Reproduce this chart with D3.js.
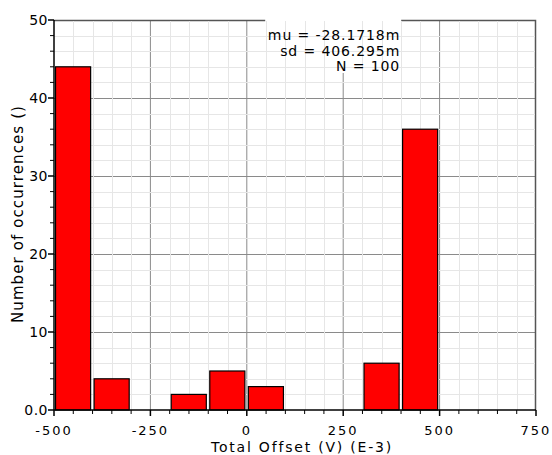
<!DOCTYPE html>
<html>
<head>
<meta charset="utf-8">
<script src="https://cdn.jsdelivr.net/npm/d3@7"></script>
<style>
  body { margin: 0; background: #fff; }
  text { font-family: "DejaVu Sans", sans-serif; fill: #000; }
</style>
</head>
<body>
<div class="chart"></div>
<script>
// histogram bins (lower edge, width 100) and counts
var binStarts = [-500, -400, -300, -200, -100, 0, 100, 200, 300, 400];
var counts = [44, 4, 0, 2, 5, 3, 0, 0, 6, 36];
var binWidth = 100;

var xTicks = [-500, -250, 0, 250, 500, 750];
var xTickLabels = ["-500", "-250", "0", "250", "500", "750"];
var yTicks = [0, 10, 20, 30, 40, 50];
var yTickLabels = ["0.0", "10", "20", "30", "40", "50"];
var statLines = ["mu = -28.1718m", "sd = 406.295m", "N = 100"];

var svgWidth = 552;
var svgHeight = 455;
var margin = { top: 20, right: 16, bottom: 45, left: 54 };
var width = svgWidth - margin.left - margin.right;
var height = svgHeight - margin.top - margin.bottom;

var svg = d3.select(".chart")
  .append("svg")
  .attr("width", svgWidth)
  .attr("height", svgHeight);

var chart = svg.append("g")
  .attr("transform", "translate(" + margin.left + "," + margin.top + ")");

var x = d3.scaleLinear().domain([-500, 750]).range([0, width]);
var y = d3.scaleLinear().domain([0, 50]).range([height, 0]);

var minorX = d3.range(-500, 751, 50).filter(function(d) { return d % 250 !== 0; });
var minorY = d3.range(0, 51, 2).filter(function(d) { return d % 10 !== 0; });

// major grid
chart.append("g").selectAll("line")
  .data(xTicks.slice(1, -1))
  .enter().append("line")
  .attr("x1", function(d) { return x(d); })
  .attr("x2", function(d) { return x(d); })
  .attr("y1", 0).attr("y2", height)
  .attr("stroke", "#8a8a8a");

chart.append("g").selectAll("line")
  .data(yTicks.slice(1, -1))
  .enter().append("line")
  .attr("y1", function(d) { return y(d) + 0.5; })
  .attr("y2", function(d) { return y(d) + 0.5; })
  .attr("x1", 0).attr("x2", width)
  .attr("stroke", "#8a8a8a");

// top and right frame
chart.append("path")
  .attr("d", "M0," + 0.5 + "H" + (width - 0.5) + "V" + height)
  .attr("fill", "none")
  .attr("stroke", "#555")
  .attr("stroke-width", 1.5);

// stats box covers the frame
var statRight = x(250) + 57;
chart.append("rect")
  .attr("x", statRight - 135)
  .attr("y", -7)
  .attr("width", 136)
  .attr("height", 60)
  .attr("fill", "#fff");

// minor grid
chart.append("g").selectAll("line")
  .data(minorX)
  .enter().append("line")
  .attr("x1", function(d) { return Math.round(x(d)) + 0.5; })
  .attr("x2", function(d) { return Math.round(x(d)) + 0.5; })
  .attr("y1", 1).attr("y2", height)
  .attr("stroke", "#e6e6e6");

chart.append("g").selectAll("line")
  .data(minorY)
  .enter().append("line")
  .attr("y1", function(d) { return Math.round(y(d)) + 0.5; })
  .attr("y2", function(d) { return Math.round(y(d)) + 0.5; })
  .attr("x1", 0).attr("x2", width - 1)
  .attr("stroke", "#e6e6e6");

// bars
var bins = binStarts.map(function(d, i) { return { x0: d, n: counts[i] }; })
  .filter(function(d) { return d.n > 0; });

chart.append("g").selectAll("rect")
  .data(bins)
  .enter().append("rect")
  .attr("x", function(d) { return x(d.x0 + 4); })
  .attr("width", function(d) { return x(d.x0 + binWidth - 5) - x(d.x0 + 4); })
  .attr("y", function(d) { return y(d.n); })
  .attr("height", function(d) { return height - y(d.n); })
  .attr("fill", "#ff0000")
  .attr("stroke", "#000")
  .attr("stroke-width", 1.2);

// x axis
var xAxis = chart.append("g").attr("transform", "translate(0," + height + ")");
xAxis.append("line").attr("x1", 0).attr("x2", width).attr("stroke", "#000").attr("stroke-width", 1.5);
xAxis.selectAll(".minor")
  .data(minorX).enter().append("line")
  .attr("x1", function(d) { return x(d); }).attr("x2", function(d) { return x(d); })
  .attr("y1", 0).attr("y2", 4).attr("stroke", "#000");
xAxis.selectAll(".major")
  .data(xTicks).enter().append("line")
  .attr("x1", function(d) { return x(d); }).attr("x2", function(d) { return x(d); })
  .attr("y1", 0).attr("y2", 6).attr("stroke", "#000").attr("stroke-width", 1.5);
xAxis.selectAll("text")
  .data(xTicks).enter().append("text")
  .attr("x", function(d) { return x(d); })
  .attr("y", 25)
  .attr("text-anchor", "middle")
  .style("font-size", "13px")
  .style("letter-spacing", "2px")
  .text(function(d, i) { return xTickLabels[i]; });

// y axis
var yAxis = chart.append("g");
yAxis.append("line").attr("y1", 0).attr("y2", height).attr("stroke", "#000").attr("stroke-width", 1.5);
yAxis.selectAll(".minor")
  .data(minorY).enter().append("line")
  .attr("y1", function(d) { return y(d); }).attr("y2", function(d) { return y(d); })
  .attr("x1", 0).attr("x2", -4).attr("stroke", "#000");
yAxis.selectAll(".major")
  .data(yTicks).enter().append("line")
  .attr("y1", function(d) { return y(d); }).attr("y2", function(d) { return y(d); })
  .attr("x1", 0).attr("x2", -6).attr("stroke", "#000").attr("stroke-width", 1.5);
yAxis.selectAll("text")
  .data(yTicks).enter().append("text")
  .attr("x", -6)
  .attr("y", function(d) { return y(d) + 5; })
  .attr("text-anchor", "end")
  .style("font-size", "14px")
  .style("letter-spacing", "0.5px")
  .text(function(d, i) { return yTickLabels[i]; });

// axis titles
chart.append("text")
  .attr("x", 248)
  .attr("y", height + 41.5)
  .attr("text-anchor", "middle")
  .style("font-size", "14px")
  .style("letter-spacing", "1.8px")
  .text("Total Offset (V) (E-3)");

chart.append("text")
  .attr("transform", "rotate(-90)")
  .attr("x", -(height / 2) + 1)
  .attr("y", -31)
  .attr("text-anchor", "middle")
  .style("font-size", "15px")
  .style("letter-spacing", "1.1px")
  .text("Number of occurrences ()");

// stats text
chart.append("g").selectAll("text")
  .data(statLines)
  .enter().append("text")
  .attr("x", statRight)
  .attr("y", function(d, i) { return 20 + i * 15.5; })
  .attr("text-anchor", "end")
  .style("font-size", "14px")
  .style("letter-spacing", "0.9px")
  .text(function(d) { return d; });
</script>
</body>
</html>
